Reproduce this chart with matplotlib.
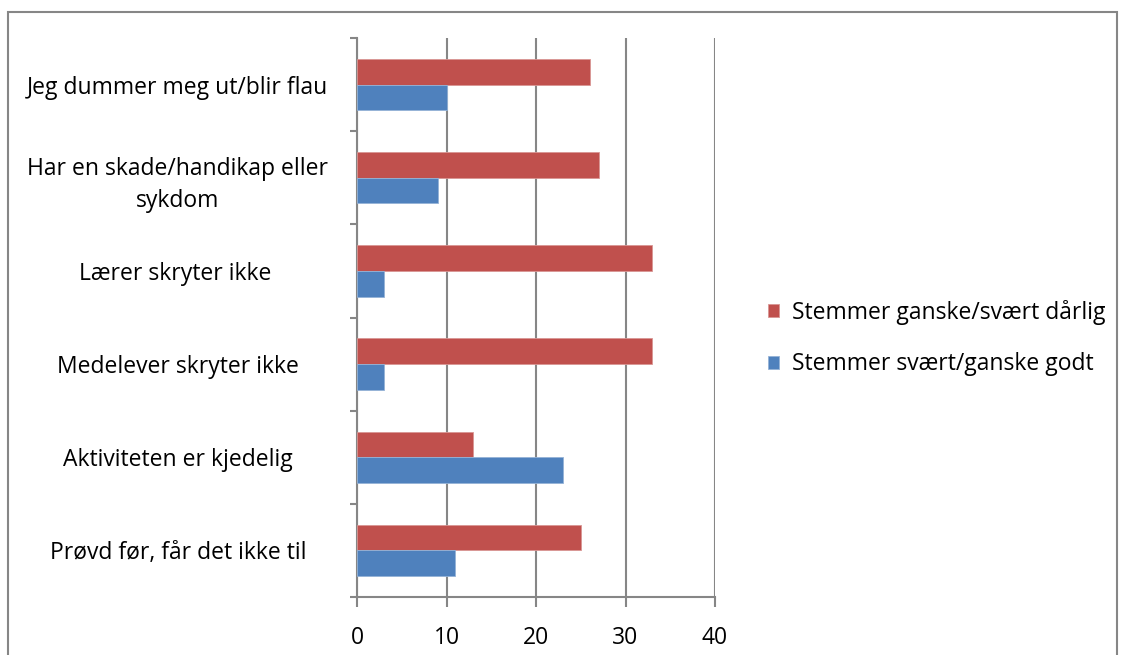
import matplotlib.pyplot as plt
import numpy as np
from matplotlib.patches import Rectangle

# survey categories, top to bottom
categories = ["Jeg dummer meg ut/blir flau",
              "Har en skade/handikap eller\nsykdom",
              "Lærer skryter ikke ",
              "Medelever skryter ikke",
              "Aktiviteten er kjedelig",
              "Prøvd før, får det ikke til"]
daarlig = [26, 27, 33, 33, 13, 25]   # Stemmer ganske/svært dårlig
godt = [10, 9, 3, 3, 23, 11]         # Stemmer svært/ganske godt
x_ticks = [0, 10, 20, 30, 40]

red = '#C0504D'
blue = '#4F81BD'
grey = '#868686'
fs = 16.5

plt.rcParams['font.family'] = ['Open Sans', 'DejaVu Sans']

fig = plt.figure(figsize=(11.25, 6.55), dpi=100)
ax = fig.add_axes([357/1125, 1-597/655, 358/1125, 559/655])

n = len(categories)
centers = np.arange(n)[::-1] + 0.5
h = 0.275
ax.barh(centers + h/2, daarlig, height=h, color=red, edgecolor='#D99694', linewidth=0.6,
        label='Stemmer ganske/svært dårlig', zorder=3)
ax.barh(centers - h/2, godt, height=h, color=blue, edgecolor='#95B3D7', linewidth=0.6,
        label='Stemmer svært/ganske godt', zorder=3)

ax.set_xlim(0, 40)
ax.set_ylim(0, n)
ax.set_xticks(x_ticks)
ax.set_xticklabels([str(t) for t in x_ticks], fontsize=fs)
ax.set_yticks(np.arange(n + 1))
ax.set_yticklabels([])
ax.set_yticks(centers, minor=True)
ax.set_yticklabels(categories, minor=True, fontsize=fs, ha='center', multialignment='center',
                   linespacing=1.45)
ax.tick_params(axis='y', which='minor', length=0, pad=129)
ax.tick_params(axis='y', which='major', length=5, color=grey, width=1.5)
ax.tick_params(axis='x', length=7, color=grey, width=1.5, pad=14)

ax.grid(axis='x', color=grey, linewidth=1.5, zorder=0)
for side in ['top', 'right']:
    ax.spines[side].set_visible(False)
for side in ['left', 'bottom']:
    ax.spines[side].set_color(grey)
    ax.spines[side].set_linewidth(1.5)

leg = fig.legend(loc='center left', bbox_to_anchor=(768/1125, 1-338/655), frameon=False,
                 fontsize=fs, handlelength=0.5, handleheight=0.5, handletextpad=0.55,
                 labelspacing=1.2, borderaxespad=0, borderpad=0)

# chart frame
fig.patches.append(Rectangle((8/1125, -0.1), 1109/1125, 1.1 - 12/655, transform=fig.transFigure,
                             fill=False, edgecolor=grey, linewidth=1.5))

fig.savefig('out.png', dpi=100)
